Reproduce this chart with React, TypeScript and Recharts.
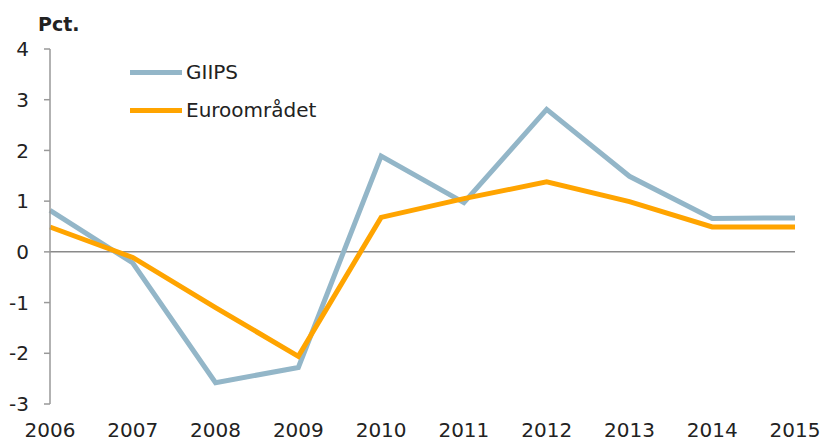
import React from 'react';
import { LineChart, Line, XAxis, YAxis, ReferenceLine } from 'recharts';

const years = ['2006', '2007', '2008', '2009', '2010', '2011', '2012', '2013', '2014', '2015'];
const giips = [0.82, -0.22, -2.58, -2.28, 1.89, 0.97, 2.81, 1.49, 0.66, 0.67];
const euro = [0.49, -0.11, -1.1, -2.06, 0.68, 1.05, 1.38, 0.99, 0.49, 0.49];
const yTicks = [-3, -2, -1, 0, 1, 2, 3, 4];

const seriesNames = { giips: 'GIIPS', euro: 'Euroområdet' };
const colors = { giips: '#93b6c8', euro: '#ffa400' };

const data = years.map((y, i) => ({ year: y, giips: giips[i], euro: euro[i] }));

const FONT = '"DejaVu Sans", Verdana, sans-serif';

const XTick = (props: any) => {
  const { x, payload } = props;
  return (
    <text x={x} y={437} textAnchor="middle" fontFamily={FONT} fontSize={20} fill="#222">
      {payload.value}
    </text>
  );
};

export default function App() {
  return (
    <div style={{ position: 'absolute', left: 0, top: 0, width: 822, height: 442, background: '#fff' }}>
      <LineChart width={822} height={442} data={data} margin={{ top: 49, right: 27, left: 0, bottom: 0 }}>
        <XAxis
          dataKey="year"
          axisLine={false}
          tickLine={false}
          height={38}
          tick={<XTick />}
          interval={0}
        />
        <YAxis
          domain={[-3, 4]}
          ticks={yTicks}
          width={50}
          interval={0}
          axisLine={{ stroke: '#999', strokeWidth: 1.5 }}
          tickLine={{ stroke: '#999', strokeWidth: 1.5 }}
          tickSize={6}
          tickMargin={15}
          tick={{ fontFamily: FONT, fontSize: 20, fill: '#222' }}
        />
        <ReferenceLine y={0} stroke="#8a8a8a" strokeWidth={1.5} />
        <Line type="linear" dataKey="giips" stroke={colors.giips} strokeWidth={5} dot={false} isAnimationActive={false} />
        <Line type="linear" dataKey="euro" stroke={colors.euro} strokeWidth={5} dot={false} isAnimationActive={false} />
        <text x={38} y={31} fontFamily={FONT} fontSize={19} fontWeight="bold" fill="#222">
          Pct.
        </text>
      </LineChart>
      <div
        style={{
          position: 'absolute',
          left: 130,
          top: 53,
          fontFamily: FONT,
          fontSize: 20,
          color: '#222',
        }}
      >
        {(['giips', 'euro'] as const).map((k) => (
          <div key={k} style={{ display: 'flex', alignItems: 'center', height: 38 }}>
            <div style={{ width: 52, height: 5, background: colors[k], marginRight: 4 }} />
            <span>{seriesNames[k]}</span>
          </div>
        ))}
      </div>
    </div>
  );
}
